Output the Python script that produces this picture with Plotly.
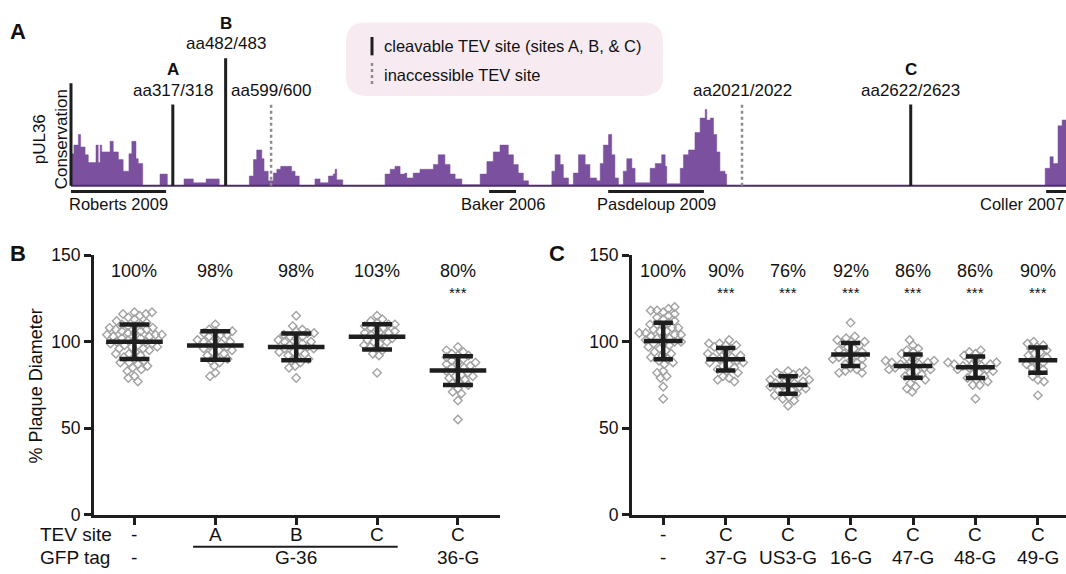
import numpy as np
import plotly.graph_objects as go

W, H = 1066, 574

# ---------------- Panel A data ----------------
prof_pos = [0, 9, 23, 30, 44, 54, 78, 85, 91, 96, 122, 132, 148, 163, 181, 190, 203, 210, 224, 278, 301,
            353, 382, 422, 463, 557, 570, 580, 596, 603, 616, 632, 643, 655, 689, 700, 713, 762, 778, 804,
            819, 825, 830, 849, 981, 997, 1012, 1028, 1043, 1049, 1069, 1090, 1132, 1147, 1168, 1184, 1200,
            1221, 1278, 1299, 1319, 1340, 1366, 1382, 1397, 1413, 1429, 1502, 1512, 1528, 1538, 1554, 1569,
            1585, 1606, 1621, 1642, 1653, 1663, 1679, 1689, 1699, 1710, 1725, 1736, 1752, 1762, 1809, 1825,
            1845, 1856, 1861, 1903, 1913, 1929, 1949, 1965, 1981, 1986, 1997, 2007, 2017, 2027, 2043, 2048,
            3043, 3058, 3068, 3083, 3096, 3108]
prof_val = [33, 42, 53, 40, 32, 24, 42, 24, 42, 35, 46, 35, 27, 15, 33, 46, 28, 23, 0, 12, 0,
            7, 3, 7, 0, 10, 27, 37, 28, 15, 5, 13, 17, 20, 15, 10, 0, 7, 3, 10,
            12, 17, 6, 0, 12, 17, 20, 12, 13, 8, 13, 17, 22, 32, 22, 12, 7,
            1, 12, 25, 35, 42, 32, 22, 13, 5, 0, 15, 32, 22, 8, 1, 13,
            32, 22, 8, 5, 23, 42, 53, 32, 8, 1, 15, 28, 18, 3, 18, 23,
            32, 20, 2, 18, 32, 37, 55, 70, 79, 68, 70, 53, 35, 15, 12, 0,
            18, 30, 23, 62, 68, 68]

site_pos = [318, 483, 625, 2096, 2623]
site_label = ["aa317/318", "aa482/483", "aa599/600", "aa2021/2022", "aa2622/2623"]
site_name = ["A", "B", "", "", "C"]
site_cleavable = [True, True, False, False, True]

ref_names = ["Roberts 2009", "Baker 2006", "Pasdeloup 2009", "Coller 2007"]
ref_start = [0, 1306, 1678, 3046]
ref_end = [297, 1390, 1977, 3108]

# ---------------- Panel B data ----------------
b_tev = ["-", "A", "B", "C", "C"]
b_pct = ["100%", "98%", "98%", "103%", "80%"]
b_sig = ["", "", "", "", "***"]
b_mean = [100, 97.8, 97.0, 102.8, 83.3]
b_sd = [10.0, 8.2, 7.7, 7.3, 8.3]
b_vals = [
    [117, 116, 117, 115, 116, 113, 114, 112, 111, 110, 110, 109, 109, 108, 108, 107, 107, 106, 106, 105,
     105, 104, 104, 104, 103, 103, 102, 102, 101, 101, 100, 100, 99, 99, 98, 98, 97, 97, 96, 96, 95, 94,
     93, 93, 92, 91, 90, 89, 88, 88, 87, 86, 85, 84, 83, 80, 79, 77],
    [110, 107, 106, 106, 105, 104, 104, 103, 102, 101, 100, 100, 99, 98, 98, 97, 96, 95, 95, 94, 93, 92,
     91, 90, 89, 88, 86, 82, 80],
    [115, 109, 107, 106, 105, 105, 104, 103, 103, 102, 101, 100, 100, 99, 98, 98, 97, 96, 96, 95, 94, 94,
     93, 92, 91, 90, 89, 88, 86, 85, 79],
    [115, 113, 112, 111, 110, 110, 109, 108, 108, 107, 106, 105, 105, 104, 103, 103, 102, 101, 100, 100,
     99, 98, 97, 96, 95, 93, 92, 82],
    [97, 95, 94, 93, 92, 92, 91, 90, 89, 88, 88, 87, 86, 85, 85, 84, 83, 82, 81, 80, 80, 79, 78, 77, 76,
     75, 73, 71, 70, 66, 55],
]

# ---------------- Panel C data ----------------
c_tev = ["-", "C", "C", "C", "C", "C", "C"]
c_tag = ["-", "37-G", "US3-G", "16-G", "47-G", "48-G", "49-G"]
c_pct = ["100%", "90%", "76%", "92%", "86%", "86%", "90%"]
c_sig = ["", "***", "***", "***", "***", "***", "***"]
c_mean = [100.4, 89.8, 75.0, 92.6, 85.9, 85.2, 89.3]
c_sd = [10.6, 6.5, 5.1, 6.7, 6.7, 6.2, 7.3]
c_vals = [
    [120, 119, 118, 118, 117, 116, 115, 114, 113, 112, 111, 110, 110, 109, 108, 108, 107, 106, 106, 105,
     105, 104, 104, 103, 103, 102, 102, 101, 100, 100, 99, 99, 98, 97, 96, 95, 94, 93, 92, 91, 90, 89,
     88, 87, 83, 82, 80, 79, 74, 67],
    [101, 99, 99, 98, 98, 97, 96, 95, 94, 93, 92, 91, 91, 90, 90, 89, 88, 88, 87, 86, 85, 84, 83, 82, 80,
     79, 78, 77],
    [83, 83, 82, 82, 81, 80, 79, 78, 78, 77, 76, 76, 75, 75, 74, 74, 73, 72, 72, 71, 70, 69, 68, 67, 66, 63],
    [111, 103, 102, 101, 100, 100, 99, 98, 97, 96, 95, 94, 93, 93, 92, 91, 90, 90, 89, 88, 87, 86, 85, 84,
     83, 82, 82],
    [101, 98, 96, 95, 94, 93, 92, 91, 90, 89, 89, 88, 88, 87, 87, 86, 86, 85, 85, 84, 84, 83, 82, 81, 80,
     79, 78, 76, 74, 73, 71],
    [95, 94, 93, 92, 91, 90, 89, 88, 88, 87, 87, 86, 86, 85, 85, 84, 84, 83, 82, 81, 80, 79, 78, 77, 75, 75, 67],
    [100, 99, 98, 97, 96, 95, 94, 93, 92, 91, 90, 89, 88, 87, 86, 85, 84, 82, 80, 78, 77, 69],
]

# ---------------- styling ----------------
FONT = "Arial, Liberation Sans, sans-serif"
PURPLE = "#7b509f"
DARK = "#1e1e1e"
GRAY_PT = "#a2a2a2"


def px_x(p):
    return p / W


def px_y(p):
    return 1 - p / H


fig = go.Figure()

# ---- Panel A ----
fig.add_trace(go.Scatter(x=prof_pos, y=prof_val, mode="lines", line=dict(shape="hv", width=0.5, color=PURPLE),
                         fill="tozeroy", fillcolor=PURPLE, xaxis="x", yaxis="y", hoverinfo="skip",
                         showlegend=False))

shapes = []
annotations = []

shapes.append(dict(type="line", xref="x", yref="y", x0=0, x1=ref_end[-1], y0=0, y1=0,
                   line=dict(color="#4b2d6b", width=2)))
shapes.append(dict(type="line", xref="x", yref="y", x0=0, x1=0, y0=0, y1=106,
                   line=dict(color=DARK, width=3)))

for i, (p, lab, nm, cl) in enumerate(zip(site_pos, site_label, site_name, site_cleavable)):
    top = 132 if i == 1 else 84
    if cl:
        shapes.append(dict(type="line", xref="x", yref="y", x0=p, x1=p, y0=0, y1=top,
                           line=dict(color=DARK, width=3)))
    else:
        shapes.append(dict(type="line", xref="x", yref="y", x0=p, x1=p, y0=0, y1=top,
                           line=dict(color="#8c8c8c", width=2.5, dash="dot")))
    annotations.append(dict(x=p, y=top + 15, xref="x", yref="y", text=lab, showarrow=False,
                            font=dict(size=17, color="#111", family=FONT), xanchor="center", yanchor="middle"))
    if nm:
        annotations.append(dict(x=p, y=top + 36, xref="x", yref="y", text="<b>%s</b>" % nm, showarrow=False,
                                font=dict(size=17, color="#111", family=FONT), xanchor="center",
                                yanchor="middle"))

for nm, s, e in zip(ref_names, ref_start, ref_end):
    shapes.append(dict(type="line", xref="x", yref="y", x0=s, x1=e, y0=-6, y1=-6,
                       line=dict(color=DARK, width=3)))
    if e >= ref_end[-1]:
        annotations.append(dict(x=e, y=-19, xref="x", yref="y", text=nm, showarrow=False,
                                font=dict(size=16.5, color="#111", family=FONT), xanchor="right",
                                yanchor="middle"))
    else:
        annotations.append(dict(x=(s + e) / 2, y=-19, xref="x", yref="y", text=nm, showarrow=False,
                                font=dict(size=16.5, color="#111", family=FONT), xanchor="center",
                                yanchor="middle"))

annotations.append(dict(x=px_x(50), y=px_y(134), xref="paper", yref="paper", text="pUL36<br>Conservation",
                        showarrow=False, textangle=-90, font=dict(size=17, color="#111", family=FONT),
                        xanchor="center", yanchor="middle"))

# legend box (rounded rectangle)
lx0, lx1, ly0, ly1, r = 346, 663, 13, 89, 20


def P(x, y):
    return "%.5f,%.5f" % (px_x(x), px_y(y))


path = ("M " + P(lx0 + r, ly0) + " L " + P(lx1 - r, ly0) + " Q " + P(lx1, ly0) + " " + P(lx1, ly0 + r) +
        " L " + P(lx1, ly1 - r) + " Q " + P(lx1, ly1) + " " + P(lx1 - r, ly1) +
        " L " + P(lx0 + r, ly1) + " Q " + P(lx0, ly1) + " " + P(lx0, ly1 - r) +
        " L " + P(lx0, ly0 + r) + " Q " + P(lx0, ly0) + " " + P(lx0 + r, ly0) + " Z")
shapes.append(dict(type="path", xref="paper", yref="paper", path=path, fillcolor="#f7ebf1",
                   line=dict(width=0), layer="below"))
shapes.append(dict(type="line", xref="paper", yref="paper", x0=px_x(372), x1=px_x(372), y0=px_y(28),
                   y1=px_y(47), line=dict(color=DARK, width=3)))
shapes.append(dict(type="line", xref="paper", yref="paper", x0=px_x(372), x1=px_x(372), y0=px_y(55),
                   y1=px_y(78), line=dict(color="#8c8c8c", width=2.5, dash="dot")))
annotations.append(dict(x=px_x(382), y=px_y(37), xref="paper", yref="paper",
                        text="cleavable TEV site (sites A, B, & C)", showarrow=False,
                        font=dict(size=16.5, color="#111", family=FONT), xanchor="left", yanchor="middle"))
annotations.append(dict(x=px_x(382), y=px_y(67), xref="paper", yref="paper", text="inaccessible TEV site",
                        showarrow=False, font=dict(size=16.5, color="#111", family=FONT), xanchor="left",
                        yanchor="middle"))

for letter, x, y in [("A", 18, 22), ("B", 18, 252), ("C", 557, 252)]:
    annotations.append(dict(x=px_x(x), y=px_y(y), xref="paper", yref="paper", text="<b>%s</b>" % letter,
                            showarrow=False, font=dict(size=22, color="#111", family=FONT), xanchor="center",
                            yanchor="middle"))


def swarm(vals, x_px_per_unit, y_px_per_unit, d=6.4):
    vals = np.asarray(vals, float)
    order = np.argsort(np.abs(vals - np.median(vals)))
    placed = []
    offs = np.zeros(len(vals))
    for idx in order:
        y = vals[idx] * y_px_per_unit
        forb = []
        for (xo, yo) in placed:
            dy = abs(yo - y)
            if dy < d:
                w = (d * d - dy * dy) ** 0.5
                forb.append((xo - w, xo + w))
        cands = [0.0] + [a for a, b in forb] + [b for a, b in forb]
        cands.sort(key=lambda c: (abs(c), c))
        chosen = 0.0
        for c in cands:
            if all(not (a + 1e-6 < c < b - 1e-6) for a, b in forb):
                chosen = c
                break
        placed.append((chosen, y))
        offs[idx] = chosen
    return offs / x_px_per_unit


YPX = (523 - 254) / 150.0


def add_dot_panel(vals_list, means, sds, xa, ya, xppu, half_mean, half_cap):
    for i, vals in enumerate(vals_list):
        offs = swarm(vals, xppu, YPX)
        fig.add_trace(go.Scatter(x=i + offs, y=vals, mode="markers", xaxis=xa, yaxis=ya,
                                 marker=dict(symbol="diamond-open", size=6.5, color=GRAY_PT,
                                             line=dict(width=1.4, color=GRAY_PT)),
                                 hoverinfo="skip", showlegend=False))
    xs, ys = [], []
    for i, (m, s) in enumerate(zip(means, sds)):
        xs += [i - half_mean, i + half_mean, None, i - half_cap, i + half_cap, None,
               i - half_cap, i + half_cap, None, i, i, None]
        ys += [m, m, None, m + s, m + s, None, m - s, m - s, None, m - s, m + s, None]
    fig.add_trace(go.Scatter(x=xs, y=ys, mode="lines", xaxis=xa, yaxis=ya,
                             line=dict(color=DARK, width=4.5), hoverinfo="skip", showlegend=False))


add_dot_panel(b_vals, b_mean, b_sd, "x2", "y2", 81.0, 0.35, 0.185)
add_dot_panel(c_vals, c_mean, c_sd, "x3", "y3", 62.5, 0.31, 0.155)

for xref, yref, pcts, sigs in [("x2", "y2", b_pct, b_sig), ("x3", "y3", c_pct, c_sig)]:
    for i, (p, s) in enumerate(zip(pcts, sigs)):
        annotations.append(dict(x=i, y=141.1, xref=xref, yref=yref, text=p, showarrow=False,
                                font=dict(size=18, color="#111", family=FONT), xanchor="center",
                                yanchor="middle"))
        if s:
            annotations.append(dict(x=i, y=128.3, xref=xref, yref=yref, text=s, showarrow=False,
                                    font=dict(size=15, color="#111", family=FONT), xanchor="center",
                                    yanchor="middle"))

ROW1, ROW2 = px_y(543), px_y(567)
for i, t in enumerate(b_tev):
    annotations.append(dict(x=i, y=ROW1, xref="x2", yref="paper", text=t, showarrow=False,
                            font=dict(size=19, color="#111", family=FONT), xanchor="center", yanchor="middle"))
b_tag_text = [(0, "-"), (2, "G-36"), (4, "36-G")]
for x, t in b_tag_text:
    annotations.append(dict(x=x, y=ROW2, xref="x2", yref="paper", text=t, showarrow=False,
                            font=dict(size=19, color="#111", family=FONT), xanchor="center", yanchor="middle"))
shapes.append(dict(type="line", xref="x2", yref="paper", x0=0.725, x1=3.255, y0=px_y(556), y1=px_y(556),
                   line=dict(color=DARK, width=2)))
for t, y in [("TEV site", ROW1), ("GFP tag", ROW2)]:
    annotations.append(dict(x=px_x(38), y=y, xref="paper", yref="paper", text=t, showarrow=False,
                            font=dict(size=19, color="#111", family=FONT), xanchor="left", yanchor="middle"))
for i, (t1, t2) in enumerate(zip(c_tev, c_tag)):
    annotations.append(dict(x=i, y=ROW1, xref="x3", yref="paper", text=t1, showarrow=False,
                            font=dict(size=19, color="#111", family=FONT), xanchor="center", yanchor="middle"))
    annotations.append(dict(x=i, y=ROW2, xref="x3", yref="paper", text=t2, showarrow=False,
                            font=dict(size=19, color="#111", family=FONT), xanchor="center", yanchor="middle"))

annotations.append(dict(x=px_x(36), y=px_y(390), xref="paper", yref="paper", text="% Plaque Diameter",
                        showarrow=False, textangle=-90, font=dict(size=18, color="#111", family=FONT),
                        xanchor="center", yanchor="middle"))

cat_x = dict(showline=True, linewidth=3, linecolor=DARK, ticks="outside", ticklen=7, tickwidth=2.5,
             tickcolor=DARK, showticklabels=False, showgrid=False, zeroline=False)
val_y = dict(showline=True, linewidth=3, linecolor=DARK, ticks="outside", ticklen=7, tickwidth=2.5,
             tickcolor=DARK, tickvals=[0, 50, 100, 150], range=[0, 150], showgrid=False, zeroline=False,
             tickfont=dict(size=17.5, color="#111", family=FONT))

fig.update_layout(
    width=W, height=H, margin=dict(l=0, r=0, t=0, b=0),
    paper_bgcolor="white", plot_bgcolor="white",
    font=dict(family=FONT, color="#111"),
    xaxis=dict(domain=[px_x(71 - 10 / 3.124), 1], range=[-10, 3108], visible=False),
    yaxis=dict(domain=[px_y(210), 1], range=[-28, 182], visible=False),
    xaxis2=dict(domain=[px_x(94), px_x(500)], range=[-0.5, 4.52], anchor="y2", tickvals=list(range(5)), **cat_x),
    yaxis2=dict(domain=[px_y(523), px_y(254)], anchor="x2", **val_y),
    xaxis3=dict(domain=[px_x(632), 1], range=[-0.5, 6.45], anchor="y3", tickvals=list(range(7)), **cat_x),
    yaxis3=dict(domain=[px_y(523), px_y(254)], anchor="x3", **val_y),
    shapes=shapes, annotations=annotations,
)

fig.write_html("out.html", config={"displayModeBar": False},
               post_script="document.body.style.margin='0px';document.body.style.overflow='hidden';")
